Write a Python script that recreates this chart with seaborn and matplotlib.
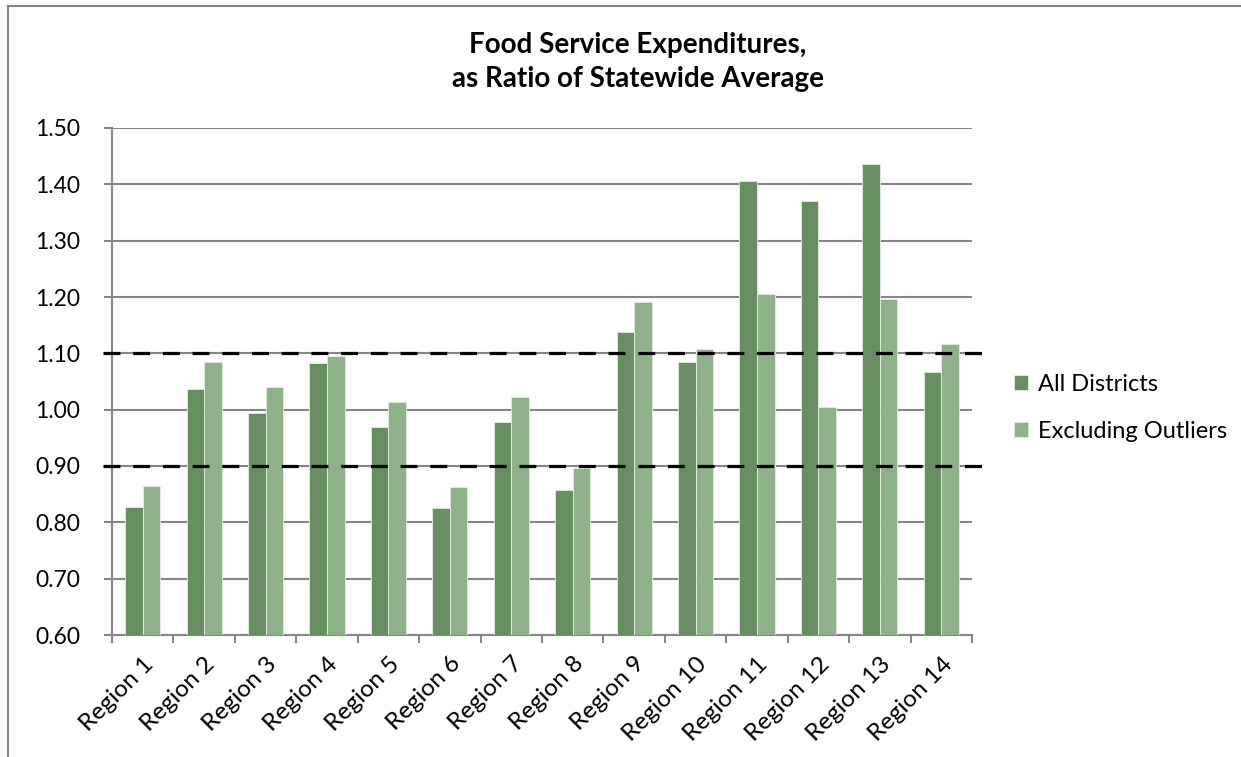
import matplotlib
matplotlib.use("Agg")
import matplotlib.pyplot as plt
from matplotlib.patches import Rectangle
import seaborn as sns
import pandas as pd

regions = [f"Region {i}" for i in range(1, 15)]
all_districts = [0.828, 1.037, 0.994, 1.082, 0.969, 0.825, 0.978,
                 0.857, 1.138, 1.084, 1.406, 1.371, 1.436, 1.066]
excluding_outliers = [0.865, 1.085, 1.040, 1.095, 1.014, 0.863, 1.023,
                      0.897, 1.191, 1.108, 1.205, 1.005, 1.197, 1.116]
series_names = ["All Districts", "Excluding Outliers"]
band_limits = [0.90, 1.10]
y_ticks = [0.60, 0.70, 0.80, 0.90, 1.00, 1.10, 1.20, 1.30, 1.40, 1.50]

df = pd.DataFrame({
    "Region": regions * 2,
    "Ratio": all_districts + excluding_outliers,
    "Series": [series_names[0]] * len(regions) + [series_names[1]] * len(regions),
})

sns.set_theme(style="white")
plt.rcParams["font.family"] = ["Lato", "DejaVu Sans"]
plt.rcParams["text.color"] = "black"

W, H = 1241, 757
fig = plt.figure(figsize=(W / 100, H / 100), dpi=100)
ax = fig.add_axes([112 / W, 1 - 635 / H, (972 - 112) / W, (635 - 128) / H])

palette = {series_names[0]: "#668e60", series_names[1]: "#8fb189"}
sns.barplot(data=df, x="Region", y="Ratio", hue="Series", palette=palette,
            width=0.57, gap=0, edgecolor="#e4eee2", linewidth=0.6,
            saturation=1, ax=ax, zorder=3)

grey = "#868686"
ax.set_ylim(0.6, 1.5)
ax.set_xlim(-0.5, len(regions) - 0.5)
ax.set_yticks(y_ticks)
ax.set_yticklabels([f"{v:.2f}" for v in y_ticks], fontsize=16.5, color="black")
ax.yaxis.grid(True, color=grey, linewidth=1.5, zorder=0)
ax.set_axisbelow(True)
ax.tick_params(axis="y", length=6, width=1.5, color=grey, pad=17, left=True)

# category labels at centres, boundary ticks between categories
ax.set_xticks(range(len(regions)))
ax.set_xticklabels(regions, rotation=45, ha="right", rotation_mode="anchor",
                   fontsize=17.5, color="black")
ax.tick_params(axis="x", which="major", length=0, pad=13)
ax.set_xticks([i - 0.5 for i in range(len(regions) + 1)], minor=True)
ax.tick_params(axis="x", which="minor", length=6, width=1.5, color=grey,
               bottom=True)

for side in ["top", "right"]:
    ax.spines[side].set_visible(False)
for side in ["left", "bottom"]:
    ax.spines[side].set_color(grey)
    ax.spines[side].set_linewidth(1.5)
ax.set_xlabel("")
ax.set_ylabel("")

# reference band lines
for lim in band_limits:
    ax.axhline(lim, xmin=-0.01, xmax=1.02, color="black", linewidth=2.3,
               dashes=(5.3, 4), clip_on=False, zorder=4)

leg = ax.legend(title=None, loc="center left", bbox_to_anchor=(1.049, 0.448),
                borderaxespad=0, borderpad=0,
                frameon=False, fontsize=17, handlelength=0.57,
                handleheight=0.57, handletextpad=0.45, labelspacing=1.1)
for t in leg.get_texts():
    t.set_color("black")

fig.text(638 / W, 1 - 45 / H, "Food Service Expenditures,", ha="center",
         va="center", fontsize=20, fontweight="bold", color="black")
fig.text(638 / W, 1 - 79 / H, "as Ratio of Statewide Average", ha="center",
         va="center", fontsize=20, fontweight="bold", color="black")

# outer chart frame
fig.patches.append(Rectangle((8 / W, -0.1), 1.2, 1.1 - 6 / H,
                             transform=fig.transFigure, fill=False,
                             edgecolor=grey, linewidth=1.5))

fig.savefig("out.png", dpi=100)
